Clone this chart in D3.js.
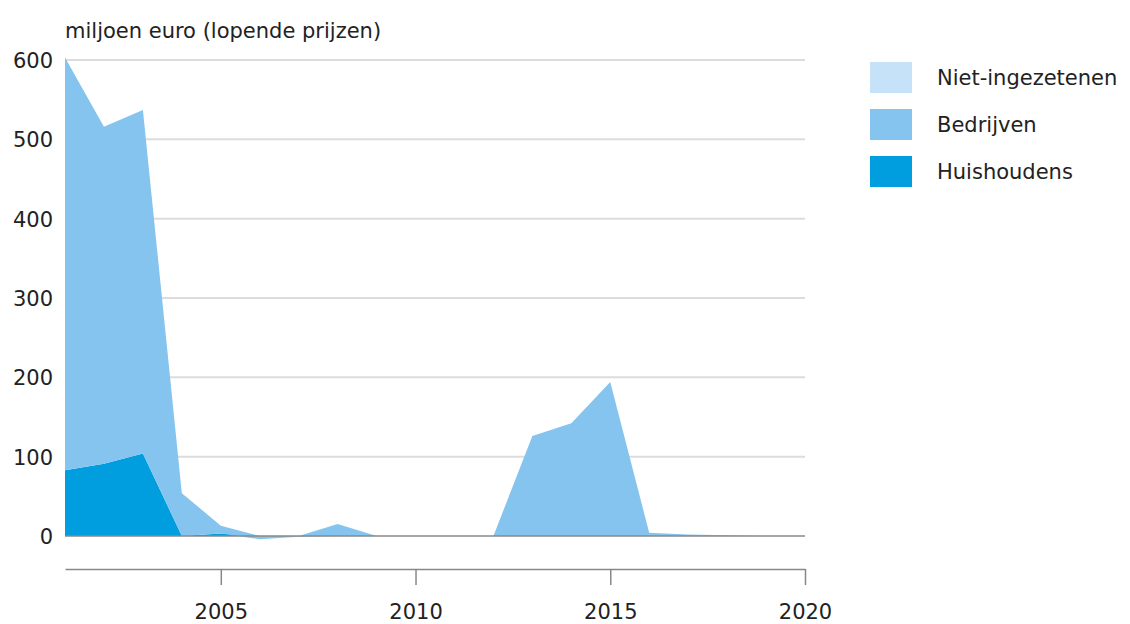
<!DOCTYPE html>
<head>
  <meta charset="utf-8">
  <script src="https://cdn.jsdelivr.net/npm/d3@7"></script>
  <style>
    body { margin: 0; background: #fff; }
    text { font-family: "DejaVu Sans", sans-serif; fill: #222; }
    text.title { font-size: 21px; }
    .legend text { font-size: 21px; }
    path.domain { stroke: #888; }
  </style>
</head>
<body>
  <svg width="1130" height="624"></svg>
  <script>
    // data
    const years = [2001, 2002, 2003, 2004, 2005, 2006, 2007, 2008, 2009, 2010,
                   2011, 2012, 2013, 2014, 2015, 2016, 2017, 2018, 2019];
    const huishoudens = [83, 91, 104, 0, 3, 0, 0, 0, 0, 0, 0, 0, 0, 0, 0, 0, 0, 0, 0];
    const bedrijven = [520, 425, 433, 54, 10, -4, -1, 15, 0, 0, 0, 0, 126, 142, 194, 4, 2, 1, 0];
    const nietIngezetenen = [0, 0, 0, 0, 0, 0, 0, 0, 0, 0, 0, 0, 0, 0, 0, 0, 0, 0, 0];
    const yTicks = [0, 100, 200, 300, 400, 500, 600];
    const xTicks = [2005, 2010, 2015, 2020];

    const series = ['Huishoudens', 'Bedrijven', 'Niet-ingezetenen'];
    const colors = { 'Huishoudens': '#009ddf', 'Bedrijven': '#85c4ef', 'Niet-ingezetenen': '#c6e2f8' };

    const table = years.map((y, i) => ({
      year: y,
      'Huishoudens': huishoudens[i],
      'Bedrijven': bedrijven[i],
      'Niet-ingezetenen': nietIngezetenen[i]
    }));

    const svg = d3.select('svg');
    const plotLeft = 65, plotRight = 805, plotTop = 60, zeroY = 536;

    const x = d3.scaleLinear().domain([2001, 2020]).range([plotLeft, plotRight]);
    const y = d3.scaleLinear().domain([0, 600]).range([zeroY, plotTop]);

    svg.append('text')
      .attr('class', 'title')
      .attr('x', 65)
      .attr('y', 38)
      .text('miljoen euro (lopende prijzen)');

    // horizontal grid lines
    svg.append('g').selectAll('line')
      .data(yTicks.filter(d => d != 0))
      .enter().append('line')
      .attr('x1', plotLeft).attr('x2', plotRight)
      .attr('y1', d => y(d)).attr('y2', d => y(d))
      .attr('stroke', '#dcdcdc')
      .attr('stroke-width', 2);

    // y labels
    svg.append('g').selectAll('text')
      .data(yTicks)
      .enter().append('text')
      .attr('x', 53)
      .attr('y', d => y(d) + 8)
      .attr('text-anchor', 'end')
      .style('font-size', '21px')
      .text(d => d);

    // stacked areas
    const stack = d3.stack().keys(series).offset(d3.stackOffsetDiverging);
    const layers = stack(table);
    const area = d3.area()
      .x(d => x(d.data.year))
      .y0(d => y(d[0]))
      .y1(d => y(d[1]));

    svg.append('g').selectAll('path')
      .data(layers)
      .enter().append('path')
      .attr('d', area)
      .attr('fill', d => colors[d.key]);

    // zero line
    svg.append('line')
      .attr('x1', plotLeft).attr('x2', plotRight)
      .attr('y1', y(0)).attr('y2', y(0))
      .attr('stroke', '#8a8a8a')
      .attr('stroke-width', 1.5);

    // x axis
    const xAxis = d3.axisBottom(x)
      .tickValues(xTicks)
      .tickFormat(d3.format('d'))
      .tickSize(16)
      .tickSizeOuter(0)
      .tickPadding(19);

    svg.append('g')
      .attr('transform', 'translate(0,569)')
      .call(xAxis)
      .call(g => g.selectAll('.tick line').attr('stroke', '#888').attr('stroke-width', 1.5))
      .call(g => g.select('.domain').attr('stroke-width', 1.5))
      .call(g => g.selectAll('.tick text')
        .style('font-family', '"DejaVu Sans", sans-serif')
        .style('font-size', '21px')
        .attr('fill', '#222'));

    // legend
    const legend = svg.append('g').attr('class', 'legend');
    const legendOrder = ['Niet-ingezetenen', 'Bedrijven', 'Huishoudens'];
    legendOrder.forEach((k, i) => {
      legend.append('rect')
        .attr('x', 870).attr('y', 62 + i * 47)
        .attr('width', 42).attr('height', 31)
        .attr('fill', colors[k]);
      legend.append('text')
        .attr('x', 937).attr('y', 85 + i * 47)
        .text(k);
    });
  </script>
</body>
